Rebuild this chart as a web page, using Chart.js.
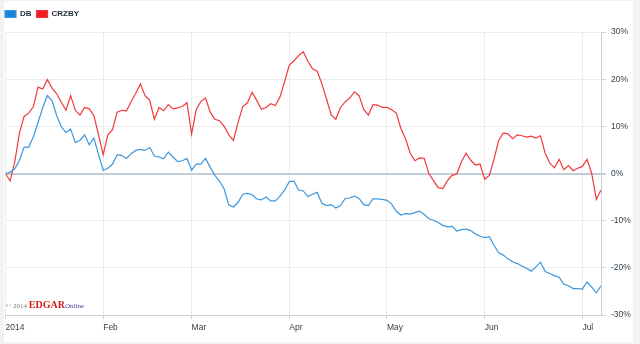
<!DOCTYPE html>
<html>
<head>
<meta charset="utf-8">
<script src="https://cdn.jsdelivr.net/npm/chart.js@4/dist/chart.umd.min.js"></script>
<style>
  html, body { margin: 0; padding: 0; background: #f2f2f2; }
  #wrap { position: absolute; left: 0; top: 0; width: 640px; height: 344px; }
</style>
</head>
<body>
<div id="wrap"><canvas id="perfChart"></canvas></div>
<script>
// series: % change since start of 2014, one value per trading day
var seriesNames = ['DB', 'CRZBY'];
var dbValues = [
  0, 0.3, 1.0, 2.8, 5.6, 5.6, 7.8, 10.8, 14.0, 16.5,
  15.4, 12.3, 9.9, 8.7, 9.4, 6.6, 7.0, 8.2, 6.1, 7.5,
  4.0, 0.7, 1.1, 2.0, 4.0, 3.8, 3.2, 4.2, 4.9, 5.1,
  4.9, 5.5, 3.7, 3.5, 3.1, 4.5, 3.5, 2.5, 2.7, 3.2,
  0.7, 2.0, 2.0, 3.2, 1.3, -0.4, -1.6, -3.3, -6.7, -7.1,
  -6.1, -4.4, -4.2, -4.5, -5.4, -5.6, -5.0, -5.8, -5.8, -4.8,
  -3.5, -1.7, -1.6, -3.5, -3.7, -4.9, -4.4, -4.0, -6.3, -6.8,
  -6.6, -7.3, -6.8, -5.3, -5.2, -4.8, -5.3, -6.6, -6.8, -5.4,
  -5.4, -5.5, -5.7, -6.5, -8.0, -8.8, -8.5, -8.6, -8.3, -8.0,
  -8.7, -9.6, -9.9, -10.4, -11.0, -11.3, -11.2, -12.2, -11.9, -11.8,
  -12.1, -12.8, -13.3, -13.6, -13.4, -15.2, -16.8, -17.3, -18.1, -18.7,
  -19.1, -19.6, -20.1, -20.7, -19.8, -18.8, -20.8, -21.2, -21.7, -22.0,
  -23.5, -23.8, -24.4, -24.4, -24.5, -23.0, -24.1, -25.3, -23.8
];
var crzbyValues = [
  0, -1.6, 2.5, 8.6, 12.1, 12.8, 14.2, 18.3, 17.9, 19.9,
  18.1, 16.9, 15.1, 13.4, 16.5, 13.4, 12.4, 14.0, 13.7, 12.3,
  8.2, 4.0, 8.2, 9.3, 13.0, 13.4, 13.3, 15.2, 17.0, 19.0,
  16.5, 15.5, 11.5, 14.0, 13.3, 14.6, 13.7, 13.9, 14.2, 15.0,
  8.4, 13.5, 15.3, 16.0, 13.0, 11.5, 11.2, 10.0, 8.2, 7.0,
  10.9, 14.2, 15.0, 17.2, 15.5, 13.6, 14.0, 14.8, 14.4, 16.2,
  19.5, 23.0, 23.9, 25.0, 25.8, 23.8, 22.2, 21.7, 19.0, 15.8,
  12.4, 11.5, 14.0, 15.2, 16.0, 17.3, 16.5, 13.6, 12.4, 14.6,
  14.5, 14.0, 14.0, 13.5, 12.8, 9.5, 7.3, 4.3, 2.7, 3.3,
  3.2, 0.0, -1.5, -3.0, -3.2, -1.5, -0.4, -0.1, 2.5, 4.3,
  2.8, 1.8, 2.0, -1.2, -0.4, 3.0, 7.0, 8.6, 8.4, 7.4,
  8.2, 8.0, 7.7, 7.9, 7.5, 8.0, 4.3, 2.2, 1.2, 3.0,
  0.8, 1.7, 0.6, 1.1, 1.5, 3.0, 0.0, -5.5, -3.5
];
// month labels and the trading-day index where each month starts
var monthLabels = ['2014', 'Feb', 'Mar', 'Apr', 'May', 'Jun', 'Jul'];
var monthIdx = [0, 21, 40, 61, 82, 103, 124];
var yTicks = [-30, -20, -10, 0, 10, 20, 30];

var dayIndex = dbValues.map(function (v, i) { return i; });

// gray frame round the white panel
var panelBg = {
  id: 'panelBg',
  beforeDraw: function (chart) {
    var c = chart.ctx;
    c.save();
    c.fillStyle = '#f2f2f2';
    c.fillRect(0, 0, chart.width, chart.height);
    c.fillStyle = '#ffffff';
    c.fillRect(4, 1, 629, 341);
    c.restore();
  }
};

// extra room under the legend, and legend flush left
var legendGap = {
  id: 'legendGap',
  afterInit: function (chart) {
    var lg = chart.legend;
    var fit = lg.fit;
    lg.fit = function () { fit.call(lg); lg.height += 4; };
  },
  afterLayout: function (chart) {
    chart.legend.left -= 5.5;
    chart.legend.right -= 5.5;
  }
};

// © 2014 EDGAR Online mark
var watermark = {
  id: 'watermark',
  afterDraw: function (chart) {
    var c = chart.ctx;
    c.save();
    c.textBaseline = 'alphabetic';
    var x = 6, y = 308;
    c.font = '7px "Liberation Serif", serif';
    c.fillStyle = '#777777';
    c.fillText('\u00a9 2014', x, y);
    x += c.measureText('\u00a9 2014 ').width;
    c.font = 'bold 10px "Liberation Serif", serif';
    c.fillStyle = '#d11a1a';
    c.fillText('EDGAR', x, y);
    x += c.measureText('EDGAR').width;
    c.font = '7px "Liberation Serif", serif';
    c.fillStyle = '#3b3f9c';
    c.fillText('Online', x, y);
    c.restore();
  }
};

var ctx = document.getElementById('perfChart').getContext('2d');
var perfChart = new Chart(ctx, {
  type: 'line',
  data: {
    labels: dayIndex,
    datasets: [{
      label: seriesNames[0],
      data: dbValues,
      borderColor: '#3c97dc',
      backgroundColor: '#1a84d6',
      borderWidth: 1.2,
      pointRadius: 0,
      tension: 0
    }, {
      label: seriesNames[1],
      data: crzbyValues,
      borderColor: '#f2393a',
      backgroundColor: '#ee1c25',
      borderWidth: 1.2,
      pointRadius: 0,
      tension: 0
    }]
  },
  options: {
    responsive: true,
    maintainAspectRatio: false,
    animation: false,
    layout: { padding: { top: 5, left: 5.5, right: 0, bottom: 0 } },
    plugins: {
      legend: {
        position: 'top',
        align: 'start',
        labels: {
          boxWidth: 11,
          boxHeight: 7,
          padding: 5,
          color: '#1f2f3a',
          font: { family: '"Liberation Sans", Arial, sans-serif', size: 8, weight: 'bold' }
        }
      },
      tooltip: { enabled: false }
    },
    scales: {
      x: {
        type: 'linear',
        min: 0,
        max: dbValues.length - 1,
        afterBuildTicks: function (axis) {
          axis.ticks = monthIdx.map(function (v) { return { value: v }; });
        },
        afterFit: function (axis) { axis.height = 29; },
        grid: { color: '#ececec', tickColor: '#c6d0da', tickLength: 4 },
        border: { color: '#c6d0da' },
        ticks: {
          autoSkip: false,
          maxRotation: 0,
          align: 'start',
          padding: 4,
          color: '#33414b',
          font: { family: '"Liberation Sans", Arial, sans-serif', size: 8.5 },
          callback: function (v) {
            var k = monthIdx.indexOf(v);
            return k >= 0 ? monthLabels[k] : '';
          }
        }
      },
      y: {
        position: 'right',
        min: -30,
        max: 30,
        afterBuildTicks: function (axis) {
          axis.ticks = yTicks.map(function (v) { return { value: v }; });
        },
        afterFit: function (axis) { axis.width = 39; },
        grid: {
          color: function (c) { return c.tick && c.tick.value === 0 ? '#c3cdd8' : '#ececec'; },
          lineWidth: function (c) { return c.tick && c.tick.value === 0 ? 2 : 1; },
          tickColor: '#c6d0da',
          tickLength: 5
        },
        border: { color: '#c6d0da' },
        ticks: {
          padding: 5,
          color: '#33414b',
          font: { family: '"Liberation Sans", Arial, sans-serif', size: 8.5 },
          callback: function (v) { return v + '%'; }
        }
      }
    }
  },
  plugins: [panelBg, legendGap, watermark]
});
</script>
</body>
</html>
